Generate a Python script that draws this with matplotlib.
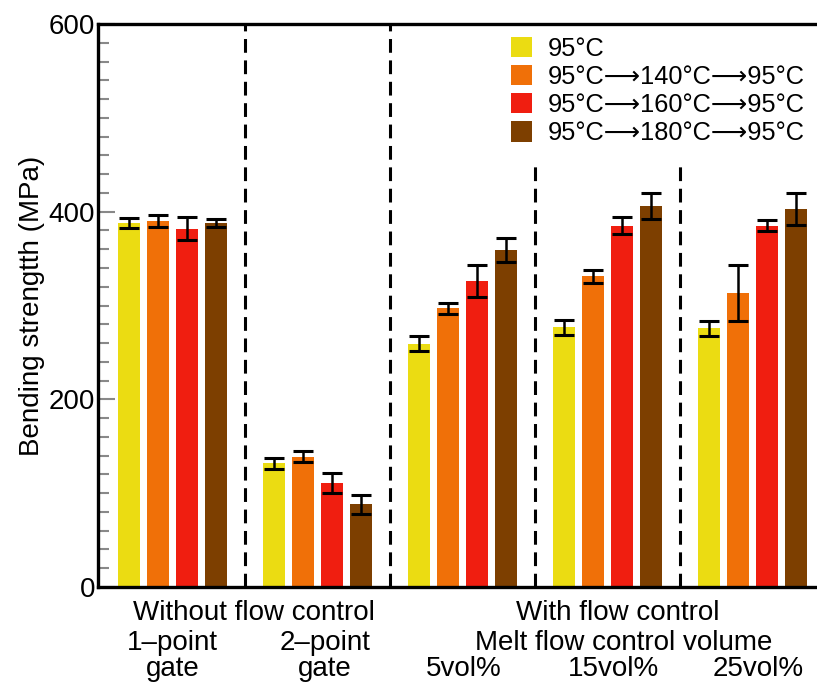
import numpy as np
import matplotlib.pyplot as plt

plt.rcParams['font.family'] = ['Liberation Sans', 'DejaVu Sans']

# groups: 1-point gate, 2-point gate, 5vol%, 15vol%, 25vol%
series_labels = ['95°C', '95°C⟶140°C⟶95°C', '95°C⟶160°C⟶95°C', '95°C⟶180°C⟶95°C']
colors = ['#EBDC12', '#F07008', '#F01E10', '#7D3F00']

strength_95 = [388, 132, 259, 277, 276]
strength_140 = [390, 139, 297, 331, 313]
strength_160 = [382, 111, 326, 385, 385]
strength_180 = [388, 88, 359, 406, 403]

err_95 = [5, 6, 8, 8, 8]
err_140 = [6, 6, 6, 7, 30]
err_160 = [12, 11, 17, 9, 6]
err_180 = [4, 10, 13, 14, 17]

values = [strength_95, strength_140, strength_160, strength_180]
errors = [err_95, err_140, err_160, err_180]

fig = plt.figure(figsize=(8.17, 6.83), dpi=100)
ax = fig.add_axes([98 / 817, 1 - 587 / 683, 1 - 98 / 817, (587 - 24) / 683])

x = np.arange(len(strength_95))
step = 0.2
width = 0.152
for i in range(4):
    ax.bar(x + (i - 1.5) * step, values[i], width, color=colors[i], label=series_labels[i],
           yerr=errors[i], capsize=7,
           error_kw=dict(ecolor='black', elinewidth=1.8, capthick=2.2))

# separators
ax.vlines([0.5, 1.5], 0, 600, colors='black', linestyles=(0, (4.5, 2.5)), linewidth=2.2)
ax.vlines([2.5, 3.5], 0, 453, colors='black', linestyles=(0, (4.5, 2.5)), linewidth=2.2)

ax.set_xlim(-0.514, 4.445)
ax.set_ylim(0, 600)
ax.set_yticks([0, 200, 400, 600])
ax.set_yticks(np.arange(0, 601, 20), minor=True)
ax.set_xticks([])
ax.tick_params(axis='y', which='major', direction='in', length=12, width=1.5, color='#888888',
               labelsize=20, pad=2)
ax.tick_params(axis='y', which='minor', direction='in', length=8, width=1.5, color='#888888')
ax.set_ylabel('Bending strengtth (MPa)', fontsize=20, labelpad=3)

for side in ['left', 'top', 'bottom']:
    ax.spines[side].set_linewidth(2.4)
ax.spines['right'].set_visible(False)

ax.legend(loc='upper left', bbox_to_anchor=(0.56, 0.995), frameon=False, fontsize=18.3,
          handlelength=0.85, handleheight=0.85, handletextpad=0.6, labelspacing=0.16,
          borderaxespad=0)

# group labels under the axis
lbl = ax.get_xaxis_transform()
fs = 20
ax.text(0.56, -0.046, 'Without flow control', transform=lbl, ha='center', va='center', fontsize=fs)
ax.text(0.0, -0.099, '1–point', transform=lbl, ha='center', va='center', fontsize=fs)
ax.text(0.0, -0.145, 'gate', transform=lbl, ha='center', va='center', fontsize=fs)
ax.text(1.05, -0.099, '2–point', transform=lbl, ha='center', va='center', fontsize=fs)
ax.text(1.05, -0.145, 'gate', transform=lbl, ha='center', va='center', fontsize=fs)
ax.text(3.07, -0.046, 'With flow control', transform=lbl, ha='center', va='center', fontsize=fs)
ax.text(3.11, -0.099, 'Melt flow control volume', transform=lbl, ha='center', va='center', fontsize=fs)
ax.text(2.01, -0.145, '5vol%', transform=lbl, ha='center', va='center', fontsize=fs)
ax.text(3.04, -0.145, '15vol%', transform=lbl, ha='center', va='center', fontsize=fs)
ax.text(4.04, -0.145, '25vol%', transform=lbl, ha='center', va='center', fontsize=fs)

fig.savefig('out.png', dpi=100)
